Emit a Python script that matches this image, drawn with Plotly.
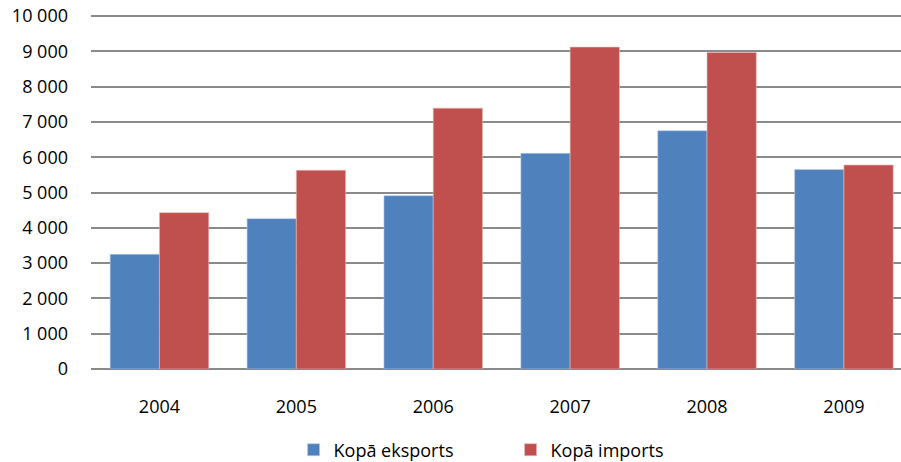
import plotly.graph_objects as go

years = ["2004", "2005", "2006", "2007", "2008", "2009"]
eksports = [3250, 4260, 4910, 6110, 6750, 5650]
imports = [4430, 5630, 7390, 9120, 8970, 5780]
y_ticks = [0, 1000, 2000, 3000, 4000, 5000, 6000, 7000, 8000, 9000, 10000]
y_tick_labels = ["0", "1 000", "2 000", "3 000", "4 000", "5 000", "6 000", "7 000", "8 000", "9 000", "10 000"]

fig = go.Figure()
fig.add_trace(go.Bar(x=years, y=eksports, name="Kopā eksports",
                     marker=dict(color="#4F81BD", line=dict(color="#B9CDE5", width=0.6))))
fig.add_trace(go.Bar(x=years, y=imports, name="Kopā imports",
                     marker=dict(color="#C0504D", line=dict(color="#E6B9B8", width=0.6))))

fig.update_layout(
    width=901, height=462,
    margin=dict(l=91, r=0, t=15, b=93, pad=0, autoexpand=False),
    paper_bgcolor="white", plot_bgcolor="white",
    barmode="group", bargap=0.28, bargroupgap=0,
    font=dict(family="Open Sans", size=18, color="#000000"),
    showlegend=True,
    legend=dict(orientation="h", x=0.518, xanchor="center",
                yref="container", y=0.026, yanchor="middle",
                font=dict(size=18), itemwidth=30, traceorder="normal",
                entrywidth=172, entrywidthmode="pixels"),
    xaxis=dict(type="category", range=[-0.5, 5.417], showgrid=False, automargin=False,
               showline=False, ticks="", ticklabelstandoff=25),
    yaxis=dict(range=[0, 10030], tickvals=y_ticks, ticktext=y_tick_labels, automargin=False,
               showgrid=True, gridcolor="#8A8A8A", gridwidth=1.5,
               zeroline=True, zerolinecolor="#8A8A8A", zerolinewidth=1.5,
               showline=False, ticks="", ticklabelstandoff=22),
)

fig.write_html("out.html", config={"displayModeBar": False},
               post_script="document.body.style.margin='0';")
